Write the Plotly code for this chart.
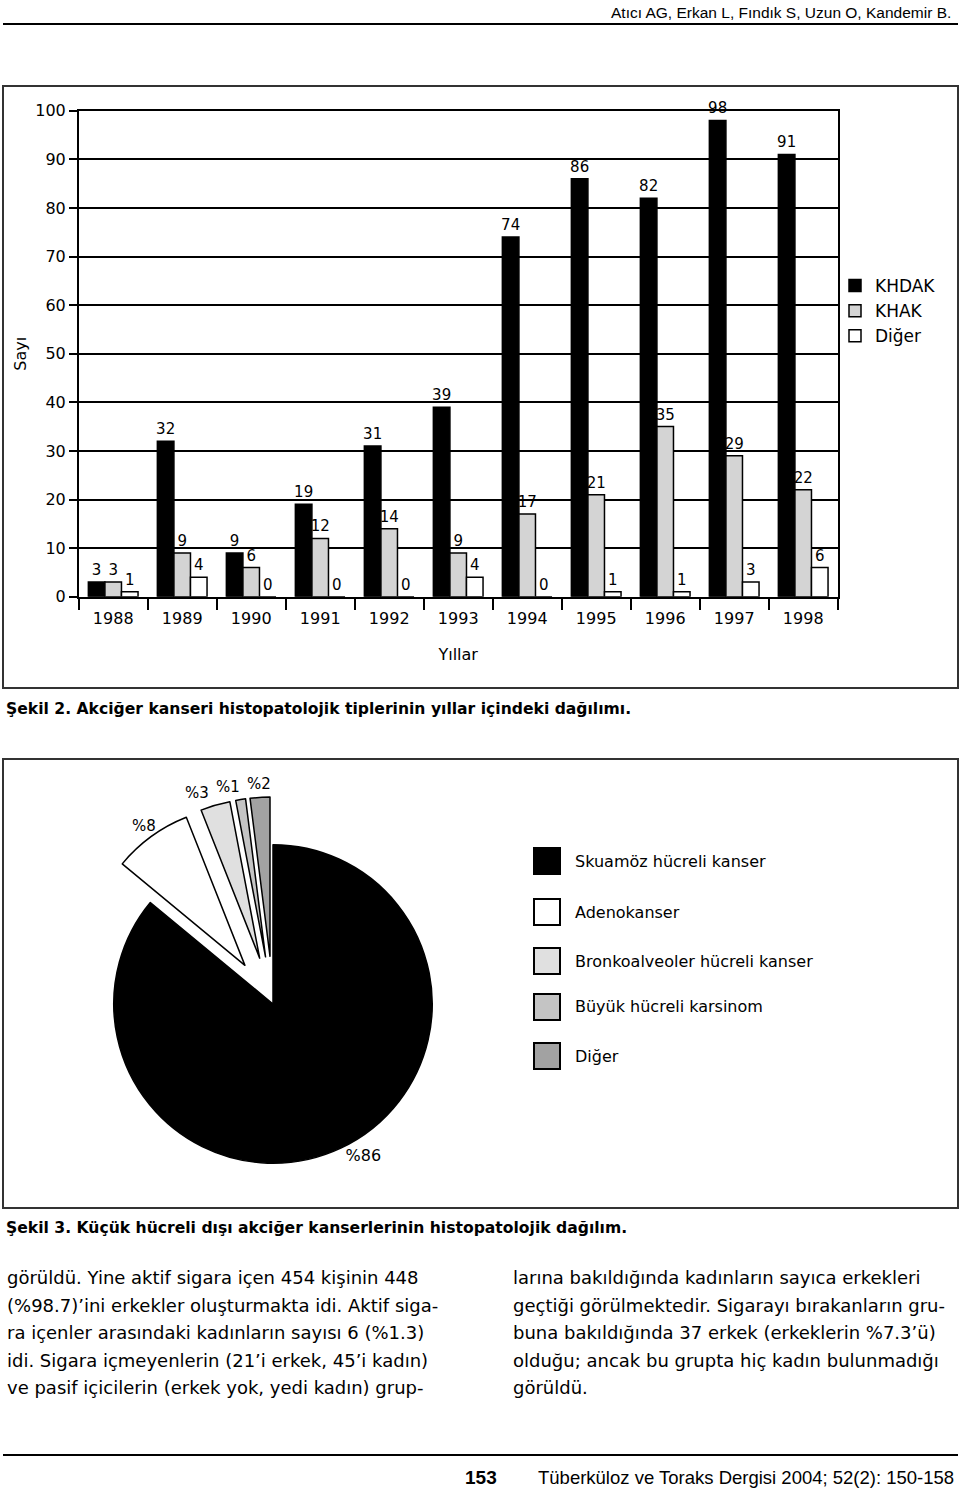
import math
import plotly.graph_objects as go

W, H = 960, 1491

# ---------------- data ----------------
years = ["1988", "1989", "1990", "1991", "1992", "1993", "1994", "1995", "1996", "1997", "1998"]
khdak = [3, 32, 9, 19, 31, 39, 74, 86, 82, 98, 91]
khak = [3, 9, 6, 12, 14, 9, 17, 21, 35, 29, 22]
diger = [1, 4, 0, 0, 0, 4, 0, 1, 1, 3, 6]
bar_series = ["KHDAK", "KHAK", "Diğer"]

pie_labels = ["Skuamöz hücreli kanser", "Adenokanser", "Bronkoalveoler hücreli kanser",
              "Büyük hücreli karsinom", "Diğer"]
pie_values = [86, 8, 3, 1, 2]
pie_text = ["%86", "%8", "%3", "%1", "%2"]

header_text = "Atıcı AG, Erkan L, Fındık S, Uzun O, Kandemir B."
caption2 = "Şekil 2. Akciğer kanseri histopatolojik tiplerinin yıllar içindeki dağılımı."
caption3 = "Şekil 3. Küçük hücreli dışı akciğer kanserlerinin histopatolojik dağılım."
left_col = [
    "görüldü. Yine aktif sigara içen 454 kişinin 448",
    "(%98.7)’ini erkekler oluşturmakta idi. Aktif siga-",
    "ra içenler arasındaki kadınların sayısı 6 (%1.3)",
    "idi. Sigara içmeyenlerin (21’i erkek, 45’i kadın)",
    "ve pasif içicilerin (erkek yok, yedi kadın) grup-",
]
right_col = [
    "larına bakıldığında kadınların sayıca erkekleri",
    "geçtiği görülmektedir. Sigarayı bırakanların gru-",
    "buna bakıldığında 37 erkek (erkeklerin %7.3’ü)",
    "olduğu; ancak bu grupta hiç kadın bulunmadığı",
    "görüldü.",
]
page_no = "153"
footer_text = "Tüberküloz ve Toraks Dergisi 2004; 52(2): 150-158"

# ---------------- styles ----------------
bar_colors = ["#000000", "#d4d4d4", "#ffffff"]
pie_colors = ["#000000", "#ffffff", "#e0e0e0", "#c4c4c4", "#a2a2a2"]
pie_pull = [0, 0.3, 0.3, 0.3, 0.3]
CHART_FONT = "DejaVu Sans, Verdana, sans-serif"
BODY_FONT = "DejaVu Sans, Verdana, sans-serif"
NARROW_FONT = "Liberation Sans Narrow, Arial Narrow, Liberation Sans, Arial, sans-serif"


def px(x):
    return x / W


def py(y):
    return 1 - y / H


fig = go.Figure()

for name, vals, col in zip(bar_series, [khdak, khak, diger], bar_colors):
    fig.add_trace(go.Bar(
        x=years, y=vals, name=name,
        marker=dict(color=col, line=dict(color="#000000", width=1.5)),
        text=[str(v) for v in vals], textposition="outside",
        textfont=dict(family=CHART_FONT, size=15, color="#000000"),
        constraintext="none", cliponaxis=False,
        xaxis="x", yaxis="y",
    ))

# pie domain (pixels)
pie_x0, pie_x1, pie_y0, pie_y1 = 66, 480, 797, 1211
fig.add_trace(go.Pie(
    labels=pie_labels, values=pie_values,
    text=[pie_text[0]] + [""] * (len(pie_text) - 1),
    textinfo="text",
    textposition=["outside"] + ["none"] * (len(pie_text) - 1),
    textfont=dict(family=CHART_FONT, size=16, color="#000000"),
    marker=dict(colors=pie_colors, line=dict(color="#000000", width=1.5)),
    pull=pie_pull,
    sort=False, direction="clockwise", rotation=0,
    domain=dict(x=[px(pie_x0), px(pie_x1)], y=[py(pie_y1), py(pie_y0)]),
    showlegend=False,
))

annotations = []
shapes = []

# labels of the small (pulled) pie slices, placed along each slice's mid angle
cx = (pie_x0 + pie_x1) / 2
cy = (pie_y0 + pie_y1) / 2
r = min(pie_x1 - pie_x0, pie_y1 - pie_y0) / (2 + 2 * max(pie_pull))
total = sum(pie_values)
cum = 0
lab_pos = []
for i, v in enumerate(pie_values):
    mid = (cum + v / 2) / total * 2 * math.pi
    cum += v
    if i == 0:
        continue
    d = r * (1 + pie_pull[i]) + 13
    lab_pos.append([cx + d * math.sin(mid), cy - d * math.cos(mid), pie_text[i]])
# simple de-overlap from the right-most label leftwards
lab_pos.sort(key=lambda p: p[0])
for k in range(len(lab_pos) - 2, -1, -1):
    if lab_pos[k + 1][0] - lab_pos[k][0] < 31:
        lab_pos[k][0] = lab_pos[k + 1][0] - 31
for x_, y_, t in lab_pos:
    annotations.append(dict(x=px(x_), y=py(y_), xref="paper", yref="paper", text=t,
                            showarrow=False, xanchor="center", yanchor="middle",
                            font=dict(family=CHART_FONT, size=15, color="#000")))

# header
annotations.append(dict(x=px(953), y=py(13), xref="paper", yref="paper", text=header_text,
                        showarrow=False, xanchor="right", yanchor="middle",
                        font=dict(family="Liberation Sans, Arial, sans-serif", size=15.5, color="#000")))
shapes.append(dict(type="line", xref="paper", yref="paper", x0=px(3), x1=px(958), y0=py(24), y1=py(24),
                   line=dict(color="#000", width=2)))

# chart frames
shapes.append(dict(type="rect", xref="paper", yref="paper", x0=px(3), x1=px(958), y0=py(688), y1=py(86),
                   line=dict(color="#333", width=2), layer="below"))
shapes.append(dict(type="rect", xref="paper", yref="paper", x0=px(3), x1=px(958), y0=py(1208), y1=py(759),
                   line=dict(color="#333", width=2), layer="below"))

# captions
for cap, yy in [(caption2, 709), (caption3, 1228)]:
    annotations.append(dict(x=px(4), y=py(yy), xref="paper", yref="paper", text="<b>" + cap + "</b>",
                            showarrow=False, xanchor="left", yanchor="middle",
                            font=dict(family=BODY_FONT, size=15.6, color="#000")))

# pie legend (drawn boxes)
leg_y = [861, 912, 961, 1007, 1056]
for lab, col, yy in zip(pie_labels, pie_colors, leg_y):
    shapes.append(dict(type="rect", xref="paper", yref="paper", x0=px(534), x1=px(560),
                       y0=py(yy + 13), y1=py(yy - 13), fillcolor=col,
                       line=dict(color="#000", width=2)))
    annotations.append(dict(x=px(573), y=py(yy), xref="paper", yref="paper", text=lab,
                            showarrow=False, xanchor="left", yanchor="middle",
                            font=dict(family=BODY_FONT, size=16, color="#000")))

# body text
line_y = [1277, 1305, 1332, 1360, 1387]
for t, yy in zip(left_col, line_y):
    annotations.append(dict(x=px(5), y=py(yy), xref="paper", yref="paper", text=t,
                            showarrow=False, xanchor="left", yanchor="middle",
                            font=dict(family=BODY_FONT, size=18, color="#000")))
for t, yy in zip(right_col, line_y):
    annotations.append(dict(x=px(511), y=py(yy), xref="paper", yref="paper", text=t,
                            showarrow=False, xanchor="left", yanchor="middle",
                            font=dict(family=BODY_FONT, size=18, color="#000")))

# footer
shapes.append(dict(type="line", xref="paper", yref="paper", x0=px(3), x1=px(958), y0=py(1455), y1=py(1455),
                   line=dict(color="#000", width=2)))
annotations.append(dict(x=px(481), y=py(1477), xref="paper", yref="paper", text="<b>" + page_no + "</b>",
                        showarrow=False, xanchor="center", yanchor="middle",
                        font=dict(family=NARROW_FONT, size=19, color="#000")))
annotations.append(dict(x=px(956), y=py(1477), xref="paper", yref="paper", text=footer_text,
                        showarrow=False, xanchor="right", yanchor="middle",
                        font=dict(family=NARROW_FONT, size=18.5, color="#000")))

fig.update_layout(
    width=W, height=H, margin=dict(l=0, r=0, t=0, b=0),
    paper_bgcolor="white", plot_bgcolor="white",
    barmode="group", bargap=0.28, bargroupgap=0,
    font=dict(family=CHART_FONT, color="#000"),
    xaxis=dict(domain=[px(78.7), px(837.7)], anchor="y", type="category",
               showline=True, linecolor="#000", linewidth=1.5, mirror=True,
               ticks="outside", tickson="boundaries", ticklen=12, tickwidth=1.5, tickcolor="#000",
               ticklabelstandoff=6,
               tickfont=dict(family=CHART_FONT, size=16, color="#000"),
               showgrid=False, automargin=False,
               title=dict(text="Yıllar", font=dict(family=CHART_FONT, size=16, color="#000"), standoff=22)),
    yaxis=dict(domain=[py(596.7), py(110.7)], anchor="x", range=[0, 100], dtick=10,
               showline=True, linecolor="#000", linewidth=1.5, mirror=True,
               ticks="outside", ticklen=8, tickwidth=1.5, tickcolor="#000",
               tickfont=dict(family=CHART_FONT, size=16, color="#000"),
               showgrid=True, gridcolor="#000", gridwidth=1.5, zeroline=False, automargin=False,
               title=dict(text="Sayı", font=dict(family=CHART_FONT, size=16, color="#000"), standoff=5)),
    legend=dict(x=px(835), y=py(268), xanchor="left", yanchor="top",
                font=dict(family=CHART_FONT, size=17, color="#000"),
                bgcolor="rgba(0,0,0,0)", tracegroupgap=0, traceorder="normal"),
    annotations=annotations, shapes=shapes,
)

fig.write_html("out.html")
